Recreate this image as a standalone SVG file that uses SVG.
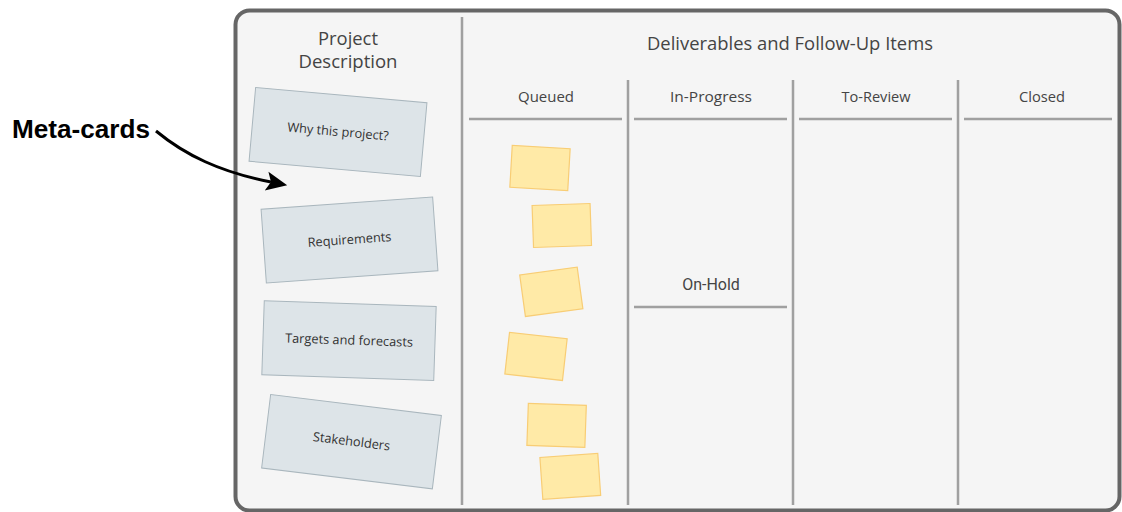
<svg xmlns="http://www.w3.org/2000/svg" width="1122" height="512" viewBox="0 0 1122 512">
<style>
.t{font-family:"Open Sans","Noto Sans",sans-serif;fill:#444}
.h{font-size:17.5px;text-anchor:middle}
.c{font-size:14.5px;text-anchor:middle}
.ct{font-family:"Open Sans","Noto Sans",sans-serif;font-size:12.8px;fill:#333;text-anchor:middle}
.line{stroke:#a0a0a0;stroke-width:2.5;fill:none}
.card{fill:#dde4e8;stroke:#a9b6bd;stroke-width:1}
.note{fill:#ffeaa7;stroke:#f8cd75;stroke-width:1.2}
</style>
<defs>
<marker id="ah" markerWidth="8" markerHeight="8" refX="1.5" refY="4" orient="auto" markerUnits="strokeWidth">
<path d="M0,0.8 L7,4 L0,7.2 L1.5,4 Z" fill="#000"/>
</marker>
</defs>
<rect width="1122" height="512" fill="#fff"/>
<g id="board">
<rect x="235.5" y="10.5" width="884" height="500" rx="14" fill="#f5f5f5" stroke="#666" stroke-width="4"/>
<line class="line" x1="462" y1="17" x2="462" y2="505"/>
<line class="line" x1="628" y1="80" x2="628" y2="505"/>
<line class="line" x1="793" y1="80" x2="793" y2="505"/>
<line class="line" x1="958" y1="80" x2="958" y2="505"/>
<line class="line" x1="469" y1="119" x2="622" y2="119"/>
<line class="line" x1="634" y1="119" x2="787" y2="119"/>
<line class="line" x1="799" y1="119" x2="952" y2="119"/>
<line class="line" x1="964" y1="119" x2="1112" y2="119"/>
<line class="line" x1="634" y1="307" x2="787" y2="307"/>
<text class="t h" x="348" y="45" textLength="60" lengthAdjust="spacingAndGlyphs">Project</text>
<text class="t h" x="348" y="68" textLength="99" lengthAdjust="spacingAndGlyphs">Description</text>
<text class="t h" x="790" y="50" textLength="286" lengthAdjust="spacingAndGlyphs">Deliverables and Follow-Up Items</text>
<text class="t c" x="546" y="102" textLength="56" lengthAdjust="spacingAndGlyphs">Queued</text>
<text class="t c" x="711" y="102" textLength="82" lengthAdjust="spacingAndGlyphs">In-Progress</text>
<text class="t c" x="876" y="102" textLength="69" lengthAdjust="spacingAndGlyphs">To-Review</text>
<text class="t c" x="1042" y="102" textLength="46" lengthAdjust="spacingAndGlyphs">Closed</text>
<text x="711" y="290" style="font-family:Roboto,'Noto Sans',sans-serif;font-size:16px;fill:#444;text-anchor:middle">On-Hold</text>
</g>
<g id="card-why" transform="translate(338,132) rotate(5.1)">
<rect class="card" x="-86" y="-37" width="172" height="74"/>
<text class="ct" x="0" y="4">Why this project?</text>
</g>
<g id="card-requirements" transform="translate(349.5,240) rotate(-4.1)">
<rect class="card" x="-86" y="-37" width="172" height="74"/>
<text class="ct" x="0" y="4">Requirements</text>
</g>
<g id="card-targets" transform="translate(349,340.6) rotate(1.9)">
<rect class="card" x="-86" y="-37" width="172" height="74"/>
<text class="ct" x="0" y="4">Targets and forecasts</text>
</g>
<g id="card-stakeholders" transform="translate(351.5,441.7) rotate(7)">
<rect class="card" x="-86" y="-37" width="172" height="74"/>
<text class="ct" x="0" y="4">Stakeholders</text>
</g>
<g id="note1" transform="translate(540,168) rotate(3.3)"><rect class="note" x="-29" y="-21" width="58" height="42"/></g>
<g id="note2" transform="translate(561.8,225.5) rotate(-2)"><rect class="note" x="-29" y="-21" width="58" height="42"/></g>
<g id="note3" transform="translate(551.3,291.8) rotate(-7.8)"><rect class="note" x="-29" y="-21" width="58" height="42"/></g>
<g id="note4" transform="translate(536,356.4) rotate(6.4)"><rect class="note" x="-29" y="-21" width="58" height="42"/></g>
<g id="note5" transform="translate(556.6,425.4) rotate(2)"><rect class="note" x="-29" y="-21" width="58" height="42"/></g>
<g id="note6" transform="translate(570.3,476.4) rotate(-4)"><rect class="note" x="-29" y="-21" width="58" height="42"/></g>
<g id="label-meta">
<text x="12" y="138" style="font-family:'Liberation Sans',Arial,sans-serif;font-size:25px;font-weight:bold;fill:#000" textLength="138" lengthAdjust="spacingAndGlyphs">Meta-cards</text>
</g>
<g id="connectors">
<path d="M156,131 C185,155 220,172 271,182" fill="none" stroke="#000" stroke-width="3" marker-end="url(#ah)"/>
</g>
</svg>
